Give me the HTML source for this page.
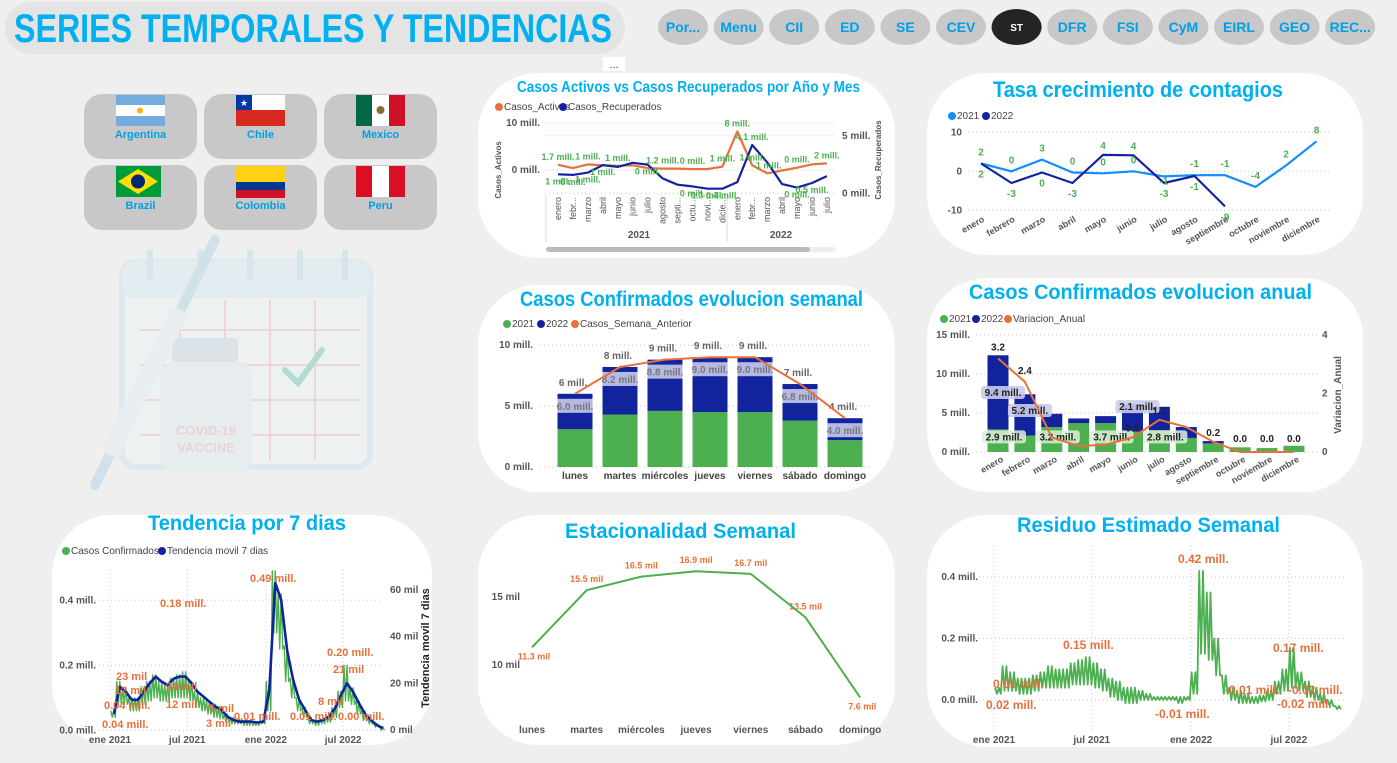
<!DOCTYPE html>
<html><head><meta charset="utf-8"><style>
html,body{margin:0;padding:0;background:#efefef;}
svg{display:block;font-family:"Liberation Sans Narrow","Liberation Sans",sans-serif;}
.t{font-weight:bold;fill:#00b0f0;}
.ax{font-size:10px;fill:#555;font-weight:bold;}
.lg{font-size:10px;fill:#444;}
.nav{font-size:14px;font-weight:bold;fill:#00a0e8;}
</style></head><body>
<svg id="s" width="1397" height="763" viewBox="0 0 1397 763" xmlns="http://www.w3.org/2000/svg">
<rect width="1397" height="763" fill="#efefef"/>
<rect x="5" y="2" width="620" height="52" rx="26" fill="#e4e4e4"/>
<text x="14" y="42" class="t" font-size="40" textLength="598" lengthAdjust="spacingAndGlyphs">SERIES TEMPORALES Y TENDENCIAS</text>
<g id="nav"></g>
<g id="countries"></g>
<g opacity="0.35">
  <rect x="122" y="262" width="248" height="205" rx="14" fill="#eef6fa" stroke="#bfe0ee" stroke-width="6"/>
  <rect x="122" y="262" width="248" height="36" rx="12" fill="#cfe9f5"/>
  <g stroke="#a9d4e6" stroke-width="6" stroke-linecap="round"><line x1="150" y1="252" x2="150" y2="278"/><line x1="200" y1="252" x2="200" y2="278"/><line x1="250" y1="252" x2="250" y2="278"/><line x1="300" y1="252" x2="300" y2="278"/><line x1="345" y1="252" x2="345" y2="278"/></g>
  <g stroke="#e7a9a9" stroke-width="2"><line x1="140" y1="330" x2="360" y2="330"/><line x1="140" y1="365" x2="360" y2="365"/><line x1="140" y1="400" x2="360" y2="400"/><line x1="140" y1="435" x2="360" y2="435"/><line x1="180" y1="300" x2="180" y2="460"/><line x1="225" y1="300" x2="225" y2="460"/><line x1="270" y1="300" x2="270" y2="460"/><line x1="315" y1="300" x2="315" y2="460"/></g>
  <path d="M285 370 L298 383 L322 350" fill="none" stroke="#49b89b" stroke-width="6" stroke-linecap="round"/>
  <rect x="172" y="338" width="66" height="24" rx="4" fill="#b8cfdc"/>
  <rect x="160" y="362" width="92" height="110" rx="14" fill="#dbe7ee"/>
  <text x="206" y="435" font-size="13" font-weight="bold" fill="#d9a4a4" text-anchor="middle">COVID-19</text>
  <text x="206" y="452" font-size="13" font-weight="bold" fill="#d9a4a4" text-anchor="middle">VACCINE</text>
  <line x1="95" y1="485" x2="215" y2="240" stroke="#9cc8e0" stroke-width="10" stroke-linecap="round"/>
  <line x1="110" y1="455" x2="180" y2="310" stroke="#d9ecf5" stroke-width="18"/>
</g>
<rect x="603" y="57" width="22" height="14" fill="#fff"/>
<text x="614" y="68" font-size="11" text-anchor="middle" fill="#444">...</text>
<rect x="478" y="73" width="417" height="185" rx="60" fill="#fff"/>
<rect x="927" y="73" width="436" height="182" rx="60" fill="#fff"/>
<rect x="478" y="285" width="417" height="207" rx="60" fill="#fff"/>
<rect x="927" y="278" width="436" height="214" rx="60" fill="#fff"/>
<rect x="52" y="515" width="380" height="230" rx="60" fill="#fff"/>
<rect x="478" y="515" width="417" height="230" rx="60" fill="#fff"/>
<rect x="927" y="515" width="436" height="232" rx="60" fill="#fff"/>
<text x="517" y="92" class="t" font-size="16" textLength="343" lengthAdjust="spacingAndGlyphs">Casos Activos vs Casos Recuperados por Año y Mes</text>
<text x="993" y="97" class="t" font-size="22" textLength="290" lengthAdjust="spacingAndGlyphs">Tasa crecimiento de contagios</text>
<text x="520" y="306" class="t" font-size="21" textLength="343" lengthAdjust="spacingAndGlyphs">Casos Confirmados evolucion semanal</text>
<text x="969" y="299" class="t" font-size="21" textLength="343" lengthAdjust="spacingAndGlyphs">Casos Confirmados evolucion anual</text>
<text x="148" y="530" class="t" font-size="21" textLength="198" lengthAdjust="spacingAndGlyphs">Tendencia por 7 dias</text>
<text x="565" y="538" class="t" font-size="21" textLength="231" lengthAdjust="spacingAndGlyphs">Estacionalidad Semanal</text>
<text x="1017" y="532" class="t" font-size="21" textLength="263" lengthAdjust="spacingAndGlyphs">Residuo Estimado Semanal</text>
<g id="charts"></g>
</svg>
<script>
// ---------- data ----------
const navLabels=['Por...','Menu','CII','ED','SE','CEV','ST','DFR','FSI','CyM','EIRL','GEO','REC...'];
const countryNames=['Argentina','Chile','Mexico','Brazil','Colombia','Peru'];

const c1Months=['enero','febr...','marzo','abril','mayo','junio','julio','agosto','septi...','octu...','novi...','dicie...','enero','febr...','marzo','abril','mayo','junio','julio'];
const c1Activos=[1.1,0.4,1.2,1.0,0.9,1.0,0.4,0.3,0.3,0.2,0.2,0.7,8.2,1.0,-0.7,-0.1,0.5,1.2,1.4];
const c1Recuperados=[1.65,1.6,1.8,2.45,2.3,2.65,2.5,1.3,0.75,0.6,0.4,0.4,0.97,4.2,2.7,0.8,0.5,0.9,1.5];
const c1ActLabels=['1.7 mill.','','1 mill.','','1 mill.','','','1.2 mill.','','0 mill.','','1 mill.','8 mill.','1 mill.','-1 mill.','','0 mill.','','2 mill.'];
const c1RecLabels=['1 mill.','0 mill.','1 mill.','1 mill.','','','0 mill.','','','0 mill.','0.3 mill.','0.4 mill.','','4.1 mill.','','','0 mill.','0.5 mill.',''];

const c2Months=['enero','febrero','marzo','abril','mayo','junio','julio','agosto','septiembre','octubre','noviembre','diciembre'];
const c2Y2021=[2,0,3,-0.3,-0.5,0,-1.3,-1,-1,-4,1.5,7.7];
const c2Y2022=[2,-3,-0.3,-3,4.2,4.1,-3,-1.2,-9];
const c2Ticks=[10,0,-10];

const c3Days=['lunes','martes','miércoles','jueves','viernes','sábado','domingo'];
const c3Y2021=[3.1,4.3,4.6,4.5,4.5,3.8,2.2];
const c3Y2022=[2.9,3.9,4.2,4.5,4.5,3.0,1.8];
const c3Anterior=[6.0,8.2,8.8,9.0,9.0,6.8,4.0];
const c3Ticks=[0,5,10];

const c4Months=['enero','febrero','marzo','abril','mayo','junio','julio','agosto','septiembre','octubre','noviembre','diciembre'];
const c4Y2021=[2.9,2.1,3.2,3.7,3.7,2.6,2.8,1.8,1.1,0.6,0.5,0.8];
const c4Y2022=[9.5,5.3,1.7,0.6,0.9,3.5,3.0,1.4,0.3,0,0,0];
const c4Variacion=[3.2,2.4,0.5,0.2,0.25,0.5,1.1,0.85,0.35,0,0,0];
const c4VarLabels=['3.2','2.4','','','','0.5','1.1','','0.2','0.0','0.0','0.0'];
const c4Ticks=[0,5,10,15];
const c4RTicks=[0,2,4];

const c5Trend=[7,18.5,16.4,12.9,12.9,16.4,20,22.9,20.7,19.3,22,22.9,22.9,20,16.4,14.3,12.1,10,8.6,5.7,4.3,3.6,3.6,3.6,3.2,3.6,17,63,55.7,34,21.4,12.9,8.6,4.3,3.6,4.3,5.7,9.3,15,20,16.4,11.4,7,4.3,2.1,0.8];
const c5Hi=[0.06,0.15,0.13,0.1,0.1,0.13,0.15,0.17,0.15,0.14,0.16,0.17,0.18,0.15,0.12,0.1,0.09,0.08,0.07,0.05,0.04,0.035,0.03,0.03,0.025,0.03,0.15,0.49,0.42,0.26,0.16,0.1,0.07,0.04,0.03,0.035,0.045,0.07,0.12,0.2,0.13,0.09,0.06,0.035,0.02,0.01];
const c5Lo=[0.04,0.08,0.08,0.06,0.06,0.08,0.09,0.1,0.09,0.09,0.1,0.1,0.1,0.09,0.07,0.06,0.05,0.04,0.035,0.025,0.02,0.02,0.015,0.015,0.015,0.02,0.06,0.3,0.25,0.15,0.1,0.06,0.04,0.02,0.015,0.02,0.025,0.04,0.07,0.09,0.08,0.05,0.03,0.02,0.01,0.0];
const c5LTicks=[0,0.2,0.4];
const c5RTicks=[0,20,40,60];
const c5XTicks=['ene 2021','jul 2021','ene 2022','jul 2022'];
const c5XDays=[0,181,365,546];

const c6Days=['lunes','martes','miércoles','jueves','viernes','sábado','domingo'];
const c6Vals=[11.3,15.5,16.5,16.9,16.7,13.5,7.6];
const c6Ticks=[10,15];

const c7Hi=[0.04,0.11,0.09,0.07,0.07,0.08,0.09,0.11,0.1,0.1,0.12,0.13,0.14,0.12,0.1,0.07,0.06,0.04,0.04,0.03,0.02,0.01,0.01,0.01,0.01,0.01,0.09,0.42,0.35,0.2,0.08,0.04,0.03,0.02,0.01,0.015,0.03,0.06,0.1,0.17,0.09,0.06,0.04,0.02,0.0,-0.02];
const c7Lo=[0.02,0.03,0.03,0.02,0.02,0.03,0.04,0.04,0.04,0.04,0.05,0.05,0.05,0.04,0.03,0.01,0.0,-0.01,-0.01,0.0,0.0,0.0,0.0,0.0,-0.01,0.0,0.02,0.15,0.13,0.08,0.02,0.0,-0.01,-0.01,-0.01,-0.005,0.0,0.02,0.03,0.04,0.03,0.01,0.0,-0.01,-0.02,-0.03];
const c7Ticks=[0,0.2,0.4];

// ---------- helpers ----------
const NS='http://www.w3.org/2000/svg';
const root=document.getElementById('charts');
function el(tag,attrs,parent,txt){const e=document.createElementNS(NS,tag);for(const k in attrs)e.setAttribute(k,attrs[k]);if(txt!==undefined)e.textContent=txt;(parent||root).appendChild(e);return e;}
function grp(name){const g=el('g',{});


return g;}
function grid(g,x1,x2,y){el('line',{x1:x1,x2:x2,y1:y,y2:y,stroke:'#c8c8c8','stroke-dasharray':'1,3'},g);}
function legend(g,x,y,items){let cx=x;items.forEach(it=>{el('circle',{cx:cx+4,cy:y-3,r:4,fill:it[1]},g);const t=el('text',{x:cx+9,y:y,class:'lg'},g,it[0]);


cx+=it[2];});}
function poly(g,pts,color,w){return el('polyline',{points:pts.map(p=>p[0].toFixed(1)+','+p[1].toFixed(1)).join(' '),fill:'none',stroke:color,'stroke-width':w,'stroke-linejoin':'round'},g);}
// weekly oscillation rendering (two weeks per point) between high and low values
function zig(hi,lo,x,step,y){const pts=[];hi.forEach((h,i)=>{for(let k=0;k<2;k++){pts.push([x(i)+k*step/2,y(h)],[x(i)+k*step/2+step/4,y(lo[i])]);}});return pts;}

// ---------- nav ----------
const nav=document.getElementById('nav');
navLabels.forEach((l,i)=>{const cx=683+i*55.6;const act=l==='ST';
const b=el('ellipse',{cx:cx,cy:27,rx:25,ry:18,fill:act?'#252423':'#c8c8c8'},nav);


el('text',{x:cx,y:act?31:32,'text-anchor':'middle',class:act?'':'nav','font-size':act?10:14,fill:act?'#fff':'#00a0e8','font-weight':'bold'},nav,l);});

// ---------- countries ----------
const cg=document.getElementById('countries');
countryNames.forEach((n,i)=>{const x=84+(i%3)*120,y=94+Math.floor(i/3)*71;
const b=el('rect',{x:x,y:y,width:113,height:65,rx:18,fill:'#c8c8c8'},cg);


const fx=x+32,fy=y+1,fw=49,fh=31;
if(n==='Argentina'){el('rect',{x:fx,y:fy,width:fw,height:fh,fill:'#74acdf'},cg);el('rect',{x:fx,y:fy+10,width:fw,height:11,fill:'#fff'},cg);el('circle',{cx:fx+24,cy:fy+15.5,r:3,fill:'#f6b40e'},cg);}
if(n==='Chile'){el('rect',{x:fx,y:fy,width:fw,height:fh,fill:'#fff'},cg);el('rect',{x:fx,y:fy+15,width:fw,height:16,fill:'#d52b1e'},cg);el('rect',{x:fx,y:fy,width:16,height:15,fill:'#0039a6'},cg);el('text',{x:fx+8,y:fy+11,'font-size':9,fill:'#fff','text-anchor':'middle'},cg,'★');}
if(n==='Mexico'){el('rect',{x:fx,y:fy,width:16,height:fh,fill:'#006847'},cg);el('rect',{x:fx+16,y:fy,width:17,height:fh,fill:'#fff'},cg);el('rect',{x:fx+33,y:fy,width:16,height:fh,fill:'#ce1126'},cg);el('circle',{cx:fx+24.5,cy:fy+15,r:4,fill:'#8c6a3c'},cg);}
if(n==='Brazil'){el('rect',{x:fx,y:fy,width:fw-4,height:fh,fill:'#009c3b'},cg);el('polygon',{points:`${fx+22},${fy+3} ${fx+42},${fy+15.5} ${fx+22},${fy+28} ${fx+2},${fy+15.5}`,fill:'#ffdf00'},cg);el('circle',{cx:fx+22,cy:fy+15.5,r:7,fill:'#002776'},cg);}
if(n==='Colombia'){el('rect',{x:fx,y:fy,width:fw,height:16,fill:'#fcd116'},cg);el('rect',{x:fx,y:fy+16,width:fw,height:8,fill:'#003893'},cg);el('rect',{x:fx,y:fy+24,width:fw,height:8,fill:'#ce1126'},cg);}
if(n==='Peru'){el('rect',{x:fx,y:fy,width:16,height:fh,fill:'#d91023'},cg);el('rect',{x:fx+16,y:fy,width:17,height:fh,fill:'#fff'},cg);el('rect',{x:fx+33,y:fy,width:16,height:fh,fill:'#d91023'},cg);}
el('text',{x:x+56.5,y:y+44,'text-anchor':'middle','font-size':11,'font-weight':'bold',fill:'#00a0e8'},cg,n);});

// ---------- chart 1 ----------
(function(){const g=grp('chart-activos-recuperados');
const x=i=>558+i*14.94, yL=v=>170-v*4.7, yR=v=>193.3-v*11.5;
legend(g,495,110,[['Casos_Activos','#e8703a',64],['Casos_Recuperados','#12239e',90]]);
grid(g,545,835,yL(10));grid(g,545,835,yL(0));grid(g,545,835,yR(5));grid(g,545,835,yR(0));
el('text',{x:540,y:yL(10)+3,'text-anchor':'end',class:'ax'},g,'10 mill.');
el('text',{x:540,y:yL(0)+3,'text-anchor':'end',class:'ax'},g,'0 mill.');
el('text',{x:842,y:yR(5)+3,class:'ax'},g,'5 mill.');
el('text',{x:842,y:yR(0)+3,class:'ax'},g,'0 mill.');
el('text',{transform:'translate(501,170) rotate(-90)','text-anchor':'middle','font-size':8,fill:'#555','font-weight':'bold'},g,'Casos_Activos');
el('text',{transform:'translate(881,160) rotate(-90)','text-anchor':'middle','font-size':8,fill:'#555','font-weight':'bold'},g,'Casos_Recuperados');
c1Months.forEach((m,i)=>{el('text',{transform:`translate(${x(i)+3},197) rotate(-90)`,'text-anchor':'end','font-size':9,fill:'#555'},g,m);});
el('line',{x1:546,x2:546,y1:195,y2:242,stroke:'#ddd'},g);el('line',{x1:727,x2:727,y1:195,y2:242,stroke:'#ddd'},g);
el('text',{x:639,y:238,'text-anchor':'middle',class:'ax'},g,'2021');
el('text',{x:781,y:238,'text-anchor':'middle',class:'ax'},g,'2022');
el('rect',{x:546,y:247,width:290,height:5,rx:2.5,fill:'#eee'},g);
const sb=el('rect',{x:546,y:247,width:264,height:5,rx:2.5,fill:'#bbb'},g);


const la=poly(g,c1Activos.map((v,i)=>[x(i),yL(v)]),'#e8703a',2.2);


const lr=poly(g,c1Recuperados.map((v,i)=>[x(i),yR(v)]),'#12239e',2.2);


c1ActLabels.forEach((l,i)=>{if(l)el('text',{x:x(i),y:yL(c1Activos[i])-5,'text-anchor':'middle','font-size':9,'font-weight':'bold',fill:'#4caf50'},g,l);});
c1RecLabels.forEach((l,i)=>{if(l)el('text',{x:x(i),y:yR(c1Recuperados[i])+(i===13?-5:10),'text-anchor':'middle','font-size':9,'font-weight':'bold',fill:'#4caf50'},g,l);});
})();

// ---------- chart 2 ----------
(function(){const g=grp('chart-tasa-crecimiento');
const x=i=>981+i*30.5, y=v=>171.3-v*3.9;
legend(g,948,119,[['2021','#118dff',34],['2022','#12239e',36]]);
c2Ticks.forEach(t=>{grid(g,968,1330,y(t));el('text',{x:962,y:y(t)+3,'text-anchor':'end',class:'ax'},g,String(t));});
c2Months.forEach((m,i)=>{el('text',{transform:`translate(${x(i)+4},221) rotate(-30)`,'text-anchor':'end','font-size':9,'font-weight':'bold',fill:'#555'},g,m);});
const a=poly(g,c2Y2021.map((v,i)=>[x(i),y(v)]),'#118dff',2.2);


const b=poly(g,c2Y2022.map((v,i)=>[x(i),y(v)]),'#12239e',2.2);


c2Y2021.forEach((v,i)=>{el('text',{x:x(i),y:y(v)-(i===6?-8:8),'text-anchor':'middle','font-size':10,'font-weight':'bold',fill:'#4caf50'},g,String(Math.round(v)));});
c2Y2022.forEach((v,i)=>{const up=v>2;el('text',{x:x(i),y:up?y(v)-6:y(v)+14,'text-anchor':'middle','font-size':10,'font-weight':'bold',fill:'#4caf50'},g,String(Math.round(v)));});
})();

// ---------- chart 3 ----------
(function(){const g=grp('chart-semanal');
const x=i=>575+i*45, y=v=>467-v*12.2, bw=35;
legend(g,503,327,[['2021','#4caf50',34],['2022','#12239e',34],['Casos_Semana_Anterior','#e8703a',110]]);
c3Ticks.forEach(t=>{grid(g,540,870,y(t));el('text',{x:533,y:y(t)+3,'text-anchor':'end',class:'ax'},g,t+' mill.');});
c3Days.forEach((d,i)=>{
const r1=el('rect',{x:x(i)-bw/2,y:y(c3Y2021[i]),width:bw,height:y(0)-y(c3Y2021[i]),fill:'#4caf50'},g);


const tot=c3Y2021[i]+c3Y2022[i];
const r2=el('rect',{x:x(i)-bw/2,y:y(tot),width:bw,height:y(c3Y2021[i])-y(tot),fill:'#12239e'},g);


el('rect',{x:x(i)-bw/2,y:y(tot)+5,width:bw,height:14,fill:'#c9cbea',opacity:0.9},g);
el('text',{x:x(i),y:y(tot)+16,'text-anchor':'middle','font-size':10,'font-weight':'bold',fill:'#777'},g,tot.toFixed(1)+' mill.');
el('text',{x:x(i),y:479,'text-anchor':'middle','font-size':10,'font-weight':'bold',fill:'#444'},g,d);
el('text',{x:x(i)-2,y:y(c3Anterior[i])-8,'text-anchor':'middle','font-size':10,'font-weight':'bold',fill:'#666'},g,Math.round(c3Anterior[i])+' mill.');});
const l=poly(g,c3Anterior.map((v,i)=>[x(i),y(v)]),'#e8703a',2);


})();

// ---------- chart 4 ----------
(function(){const g=grp('chart-anual');
const x=i=>998+i*26.9, y=v=>452-v*7.8, yR=v=>452-v*29.25, bw=21;
legend(g,940,322,[['2021','#4caf50',32],['2022','#12239e',32],['Variacion_Anual','#e8703a',80]]);
c4Ticks.forEach(t=>{grid(g,976,1320,y(t));el('text',{x:970,y:y(t)+3,'text-anchor':'end',class:'ax'},g,t+' mill.');});
c4RTicks.forEach(t=>{el('text',{x:1322,y:yR(t)+3,class:'ax'},g,String(t));});
el('text',{transform:'translate(1341,395) rotate(-90)','text-anchor':'middle','font-size':10,'font-weight':'bold',fill:'#555'},g,'Variacion_Anual');
c4Months.forEach((m,i)=>{
const tot=c4Y2021[i]+c4Y2022[i];
const r1=el('rect',{x:x(i)-bw/2,y:y(c4Y2021[i]),width:bw,height:y(0)-y(c4Y2021[i]),fill:'#4caf50'},g);


const r2=el('rect',{x:x(i)-bw/2,y:y(tot),width:bw,height:y(c4Y2021[i])-y(tot),fill:'#12239e'},g);


el('text',{transform:`translate(${x(i)+6},461) rotate(-30)`,'text-anchor':'end','font-size':9,'font-weight':'bold',fill:'#555'},g,m);});
[[0,2.9,'2.9 mill.'],[2,3.2,'3.2 mill.'],[4,3.7,'3.7 mill.'],[6,2.8,'2.8 mill.']].forEach(a=>{el('rect',{x:x(a[0])-16,y:y(2)-6,width:44,height:13,rx:3,fill:'#dcefd9',opacity:0.85},g);el('text',{x:x(a[0])+6,y:y(2)+4,'text-anchor':'middle','font-size':10,'font-weight':'bold',fill:'#222'},g,a[2]);});
[[0,9.4,'9.4 mill.',y(7.3)],[1,5.2,'5.2 mill.',y(5)],[5,2.1,'2.1 mill.',y(5.5)]].forEach(a=>{el('rect',{x:x(a[0])-17,y:a[3]-9,width:44,height:13,rx:3,fill:'#c9cbea',opacity:0.9},g);el('text',{x:x(a[0])+5,y:a[3]+1,'text-anchor':'middle','font-size':10,'font-weight':'bold',fill:'#222'},g,a[2]);});
const l=poly(g,c4Variacion.map((v,i)=>[x(i),yR(v)]),'#e8703a',2);


c4VarLabels.forEach((t,i)=>{if(t)el('text',{x:x(i),y:yR(c4Variacion[i])-(i<2?8:6)-(i>8?4:0),'text-anchor':'middle','font-size':10,'font-weight':'bold',fill:'#222'},g,t);});
})();

// ---------- chart 5 ----------
(function(){const g=grp('chart-tendencia');
const d2x=d=>110+d*0.427, x=i=>d2x(2+14*i), yL=v=>730.3-v*325, yR=v=>730-v*2.333;
legend(g,62,554,[['Casos Confirmados','#4caf50',96],['Tendencia movil 7 dias','#12239e',110]]);
c5LTicks.forEach(t=>{grid(g,95,380,yL(t));el('text',{x:96,y:yL(t)+3,'text-anchor':'end',class:'ax'},g,t.toFixed(1)+' mill.');});
c5RTicks.forEach(t=>{el('text',{x:390,y:yR(t)+3,class:'ax'},g,t+' mil');});
c5XTicks.forEach((t,i)=>{el('line',{x1:d2x(c5XDays[i]),x2:d2x(c5XDays[i]),y1:570,y2:730,stroke:'#ccc','stroke-dasharray':'1,3'},g);el('text',{x:d2x(c5XDays[i]),y:743,'text-anchor':'middle',class:'ax'},g,t);});
el('text',{transform:'translate(429,648) rotate(-90)','text-anchor':'middle','font-size':11,'font-weight':'bold',fill:'#222'},g,'Tendencia movil 7 dias');
const gl=poly(g,zig(c5Hi,c5Lo,x,14*0.427,yL),'#4caf50',1.4);


const tl=poly(g,c5Trend.map((v,i)=>[x(i)+3,yR(v)]),'#12239e',2.6);


[['0.49 mill.',250,582],['0.18 mill.',160,607],['23 mil',116,680],['12 mil',115,694],['0.04 mill.',104,709],['0.04 mill.',102,728],['24 mil',166,690],['12 mil',166,708],['5 mil',209,712],['3 mil',206,727],['0.01 mill.',234,720],['0.01 mill.',290,720],['0.20 mill.',327,656],['21 mil',333,673],['8 mil',318,705],['0.00 mill.',338,720]].forEach(a=>{el('text',{x:a[1],y:a[2],'font-size':11,'font-weight':'bold',fill:'#e8703a'},g,a[0]);});
})();

// ---------- chart 6 ----------
(function(){const g=grp('chart-estacionalidad');
const x=i=>532+i*54.7, y=v=>665-(v-10)*13.6;
c6Ticks.forEach(t=>{el('text',{x:520,y:y(t)+3,'text-anchor':'end',class:'ax'},g,t+' mil');});
c6Days.forEach((d,i)=>{el('text',{x:x(i),y:733,'text-anchor':'middle',class:'ax'},g,d);
el('text',{x:x(i)+(i===0?2:i===6?2:0),y:y(c6Vals[i])+(i===0||i===6?12:-8),'text-anchor':'middle','font-size':9,'font-weight':'bold',fill:'#e8703a'},g,c6Vals[i].toFixed(1)+' mil');});
const l=poly(g,c6Vals.map((v,i)=>[x(i),y(v)]),'#4caf50',2);


})();

// ---------- chart 7 ----------
(function(){const g=grp('chart-residuo');
const d2x=d=>994+d*0.54, x=i=>d2x(2+14*i), y=v=>700-v*307.5;
c7Ticks.forEach(t=>{grid(g,975,1345,y(t));el('text',{x:978,y:y(t)+3,'text-anchor':'end',class:'ax'},g,t.toFixed(1)+' mill.');});
c5XTicks.forEach((t,i)=>{el('line',{x1:d2x(c5XDays[i]),x2:d2x(c5XDays[i]),y1:545,y2:730,stroke:'#ccc','stroke-dasharray':'1,3'},g);el('text',{x:d2x(c5XDays[i]),y:743,'text-anchor':'middle',class:'ax'},g,t);});
const l=poly(g,zig(c7Hi,c7Lo,x,14*0.54,y),'#4caf50',1.8);


[['0.42 mill.',1178,563],['0.15 mill.',1063,649],['0.17 mill.',1273,652],['0.01 mill.',993,688],['0.02 mill.',986,709],['-0.01 mill.',1155,718],['-0.01 mill.',1225,694],['-0.02 mill.',1288,694],['-0.02 mill.',1277,708]].forEach(a=>{el('text',{x:a[1],y:a[2],'font-size':12,'font-weight':'bold',fill:'#e8703a'},g,a[0]);});
})();
</script>
</body></html>
